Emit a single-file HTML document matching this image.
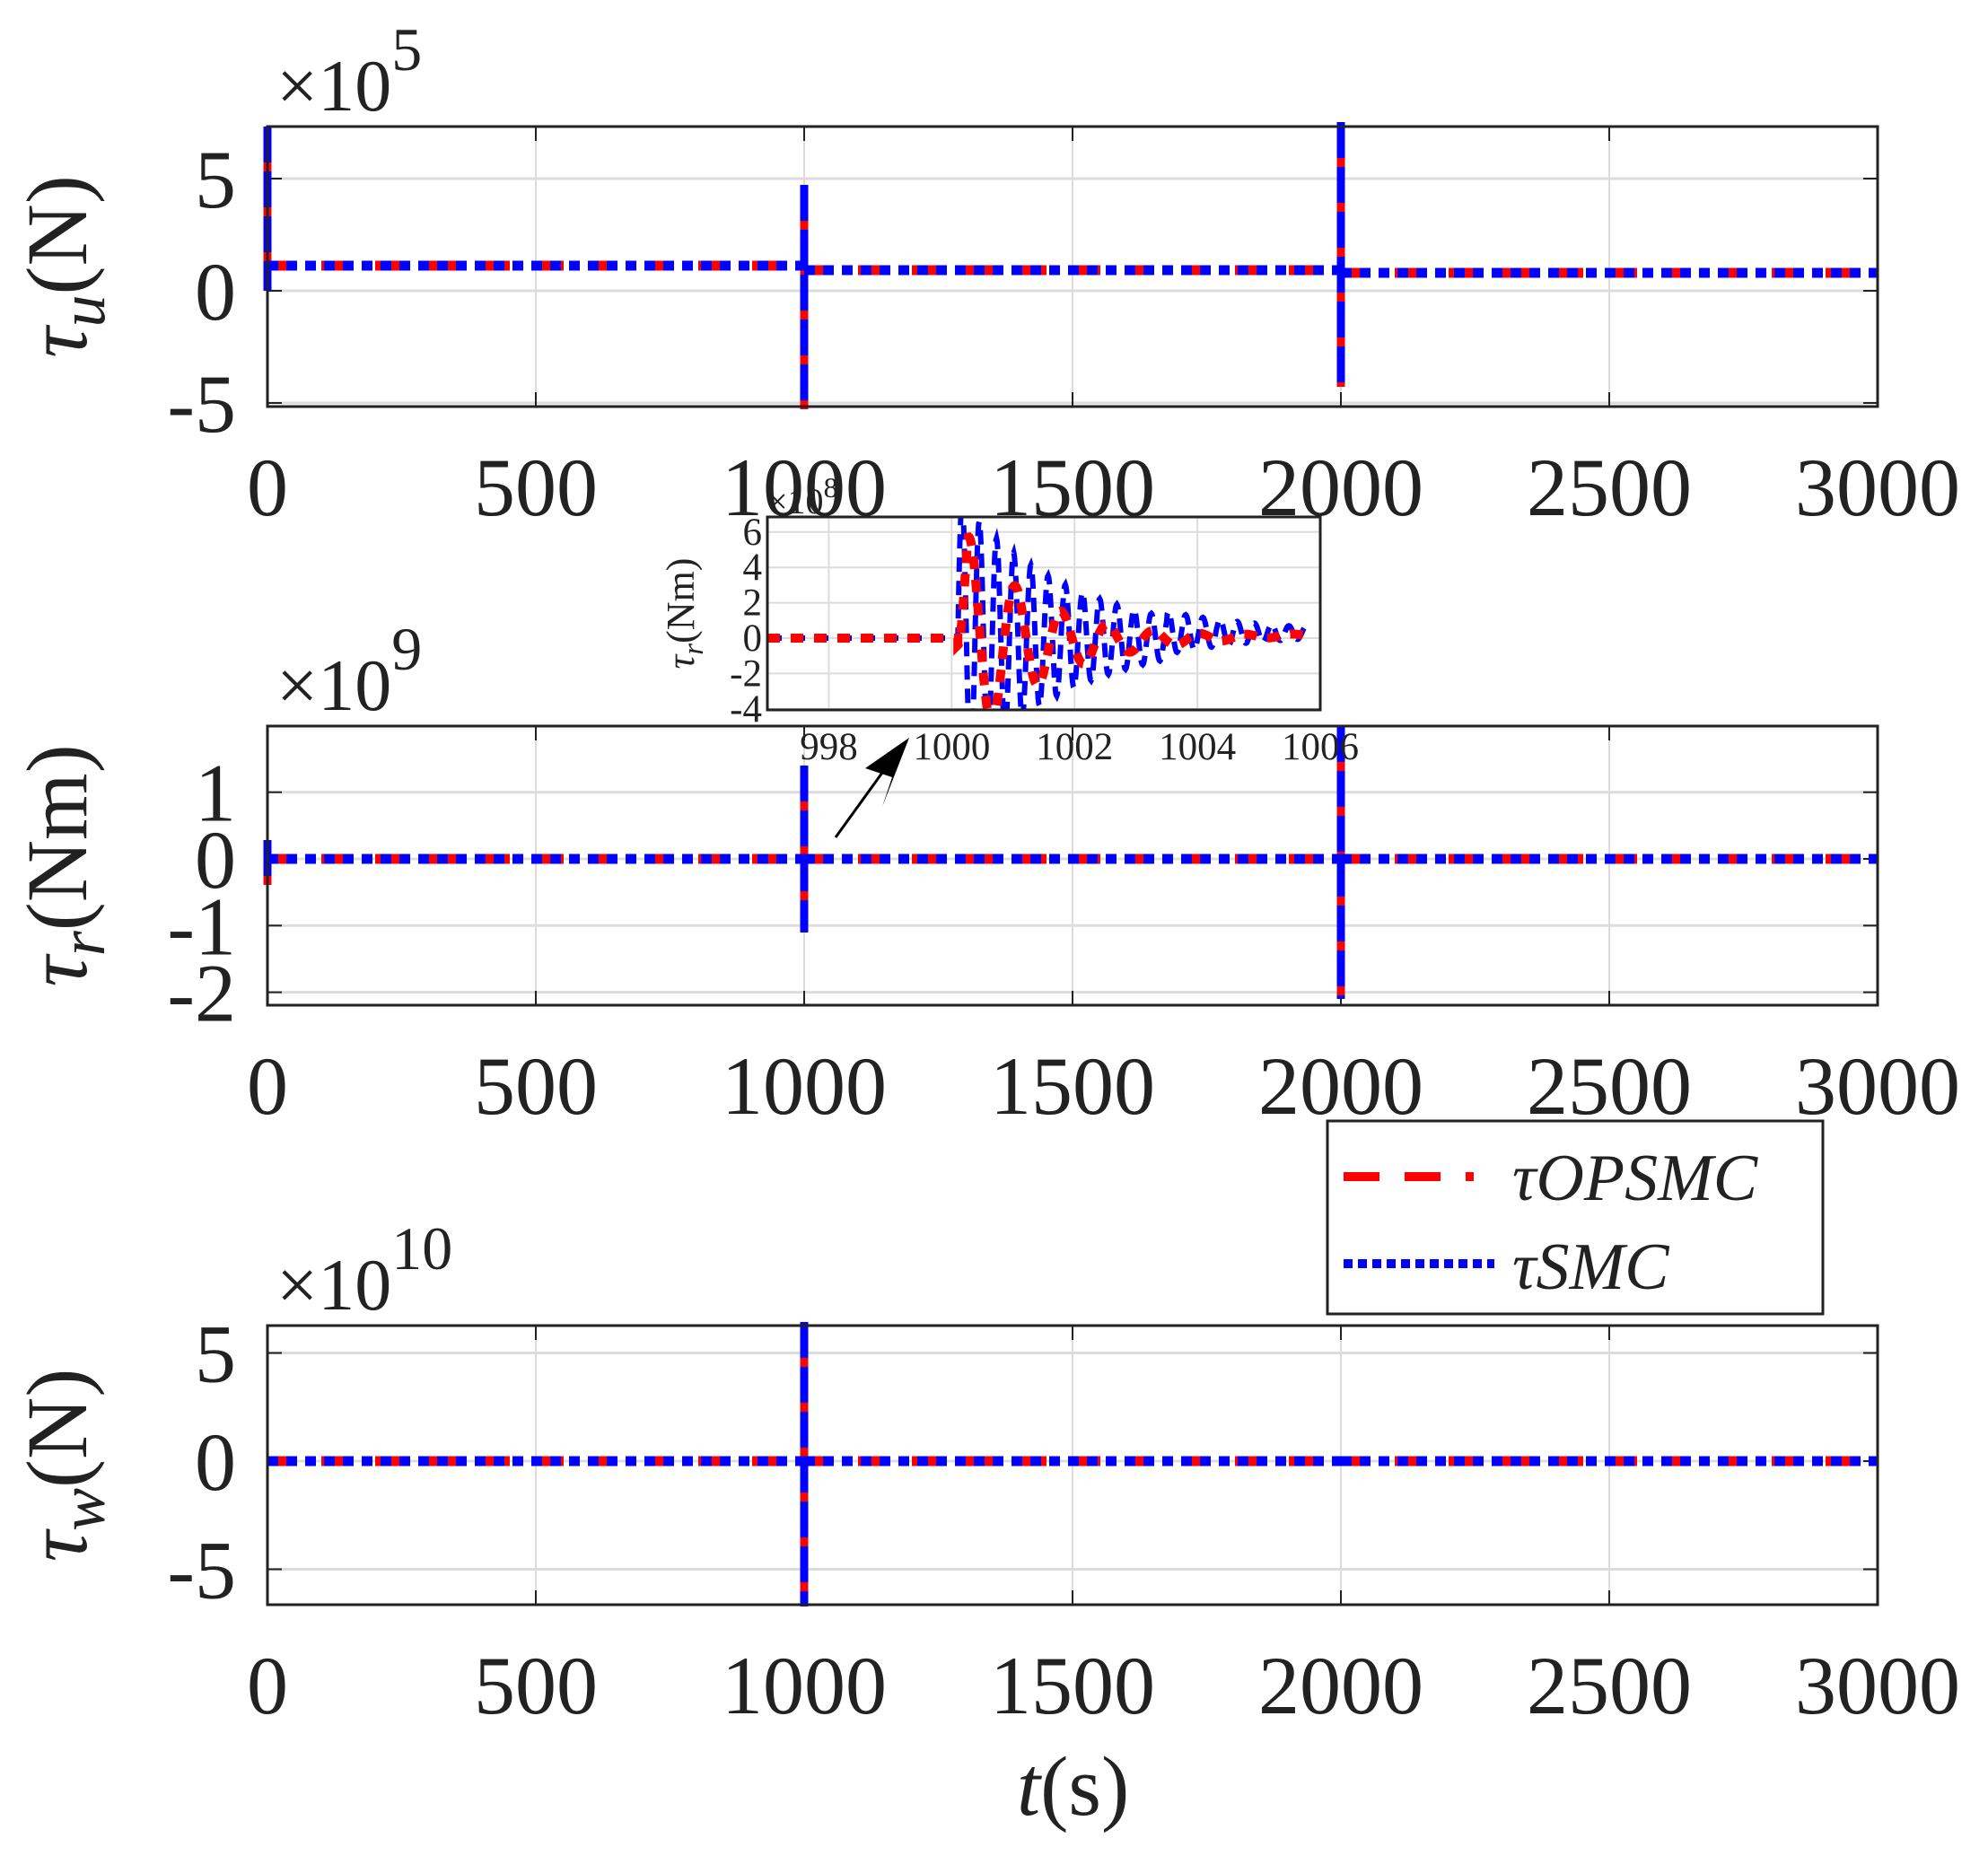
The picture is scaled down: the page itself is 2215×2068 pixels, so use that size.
<!DOCTYPE html>
<html><head><meta charset="utf-8"><style>
html,body{margin:0;padding:0;background:#fff;}
svg{display:block;}
text{font-family:"Liberation Serif",serif;fill:#222;}
</style></head><body>
<svg id="s" width="2215" height="2068" viewBox="0 0 2215 2068" xmlns="http://www.w3.org/2000/svg">
<rect width="2215" height="2068" fill="#fff"/>
<g id="g"></g>
<!-- Legend -->
<rect x="1479" y="1249" width="552" height="215" fill="#fff" stroke="#222" stroke-width="3"/>
<line x1="1497" y1="1311" x2="1642" y2="1311" stroke="#f00" stroke-width="10" stroke-dasharray="40 28"/>
<line x1="1497" y1="1408" x2="1665" y2="1408" stroke="#00f" stroke-width="10" stroke-dasharray="10 6"/>
<text x="1685" y="1337" font-size="74" font-style="italic">τOPSMC</text>
<text x="1685" y="1436" font-size="74" font-style="italic">τSMC</text>
<text x="1133" y="2022" font-size="94"><tspan font-style="italic">t</tspan>(s)</text>
<!-- arrow -->
<line x1="931" y1="933" x2="988" y2="854" stroke="#000" stroke-width="3"/>
<polygon points="1013,822 964,856 994,866 983,899" fill="#000"/>
</svg>
<script>
var NS="http://www.w3.org/2000/svg",g=document.getElementById('g');
function el(t,a,txt){var e=document.createElementNS(NS,t);for(var k in a)e.setAttribute(k,a[k]);if(txt!==undefined)e.textContent=txt;g.appendChild(e);return e;}
var L=298,R=2092;function X(t){return L+(R-L)*t/3000;}
function panel(top,bot,Y,yt,exp,ylab,sub,spikes,lv){
  for(var t=0;t<=3000;t+=500){el('line',{x1:X(t),y1:top,x2:X(t),y2:bot,stroke:'#dcdcdc','stroke-width':2});}
  yt.forEach(function(v){el('line',{x1:L,y1:Y(v),x2:R,y2:Y(v),stroke:'#dcdcdc','stroke-width':3});});
  for(var t=0;t<=3000;t+=500){el('line',{x1:X(t),y1:top,x2:X(t),y2:top+16,stroke:'#222','stroke-width':2});el('line',{x1:X(t),y1:bot,x2:X(t),y2:bot-16,stroke:'#222','stroke-width':2});
    el('text',{x:X(t),y:bot+121,'font-size':92,'text-anchor':'middle'},String(t));}
  yt.forEach(function(v){el('line',{x1:L,y1:Y(v),x2:L+16,y2:Y(v),stroke:'#222','stroke-width':2});el('line',{x1:R,y1:Y(v),x2:R-16,y2:Y(v),stroke:'#222','stroke-width':2});
    el('text',{x:263,y:Y(v)+32,'font-size':92,'text-anchor':'end'},String(v));});
  var d='M'+L+' '+lv[0];
  d+=' L'+X(1000)+' '+lv[0]+' M'+X(1000)+' '+lv[1]+' L'+X(2000)+' '+lv[1]+' M'+X(2000)+' '+lv[2]+' L'+R+' '+lv[2];
  var sp='';spikes.forEach(function(s){sp+='M'+s[0]+' '+s[1]+' L'+s[0]+' '+s[2]+' ';});
  el('path',{d:d,stroke:'#f00','stroke-width':11,fill:'none','stroke-dasharray':'30 30'});
  el('path',{d:sp,stroke:'#f00','stroke-width':9,fill:'none'});
  el('path',{d:d,stroke:'#00f','stroke-width':11,fill:'none','stroke-dasharray':'12 9'});
  el('path',{d:sp,stroke:'#00f','stroke-width':9,fill:'none','stroke-dasharray':'40 10'});
  el('rect',{x:L,y:top,width:R-L,height:bot-top,fill:'none',stroke:'#222','stroke-width':3});
  var e=el('text',{x:308,y:top-18,'font-size':82});e.innerHTML='×10<tspan dy="-45" font-size="68">'+exp+'</tspan>';
  var yl=el('text',{transform:'translate(96,'+((top+bot)/2)+') rotate(-90)','font-size':96,'text-anchor':'middle'});
  yl.innerHTML='<tspan font-style="italic">τ</tspan><tspan font-style="italic" font-size="72" dy="20">'+sub+'</tspan><tspan dy="-20">'+ylab+'</tspan>';
}
var P1=function(v){return 324-25*v;};
panel(141,453,P1,[-5,0,5],'5','(N)','u',[[X(0),141,324],[X(1000),206,456],[X(2000),136,431]],[296,301,304]);
var P2=function(v){return 957-74.3*v;};
panel(809,1120,P2,[-2,-1,0,1],'9','(Nm)','r',[[X(0),936,986],[X(1000),853,1039],[X(2000),809,1113]],[957,957,957]);
var P3=function(v){return 1628-24.1*v;};
panel(1477,1788,P3,[-5,0,5],'10','(N)','w',[[X(1000),1473,1790]],[1628,1628,1628]);
var iL=855,iR=1471,iT=576,iB=791;
function IX(t){return iL+(iR-iL)*(t-997)/9;} function IY(v){return 711-19.7*v;}
el('rect',{x:iL,y:iT,width:iR-iL,height:iB-iT,fill:'#fff'});
[998,1000,1002,1004,1006].forEach(function(t){el('line',{x1:IX(t),y1:iT,x2:IX(t),y2:iB,stroke:'#dcdcdc','stroke-width':2});el('text',{x:IX(t),y:846,'font-size':43,'text-anchor':'middle'},String(t));});
[-4,-2,0,2,4,6].forEach(function(v){el('line',{x1:iL,y1:IY(v),x2:iR,y2:IY(v),stroke:'#dcdcdc','stroke-width':2});el('text',{x:iL-6,y:IY(v)+14,'font-size':43,'text-anchor':'end'},String(v));});
var cp=el('clipPath',{id:'ic'});var cr=document.createElementNS(NS,'rect');cr.setAttribute('x',iL);cr.setAttribute('y',iT);cr.setAttribute('width',iR-iL);cr.setAttribute('height',iB-iT);cp.appendChild(cr);
var db='M'+iL+' '+IY(0)+' L'+IX(1000.1)+' '+IY(0);
for(var t=1000.1;t<=1005.8;t+=0.01){var a=8*Math.exp(-(t-1000.1)/1.8);var v=a*Math.sin((t-1000.1)*2*Math.PI/0.28)+(t>1003.5?0.3:0);db+=' L'+IX(t).toFixed(1)+' '+IY(v).toFixed(1);}
var dr='M'+iL+' '+IY(0)+' L'+IX(1000.1)+' '+IY(0);
for(var t=1000.1;t<=1005.8;t+=0.01){var a=6*Math.exp(-(t-1000.3)/1.2);var v=a*Math.sin((t-1000.1)*2*Math.PI/0.75)*Math.min(1,(t-1000.1)*6)+0.1*(t-1004);dr+=' L'+IX(t).toFixed(1)+' '+IY(v).toFixed(1);}
el('path',{d:db,stroke:'#00f','stroke-width':6,fill:'none','stroke-dasharray':'16 10','clip-path':'url(#ic)'});
el('path',{d:dr,stroke:'#f00','stroke-width':10,fill:'none','stroke-dasharray':'14 12','clip-path':'url(#ic)'});
el('rect',{x:iL,y:iT,width:iR-iL,height:iB-iT,fill:'none',stroke:'#222','stroke-width':3});
var it=el('text',{x:iL,y:iT-4,'font-size':40});it.innerHTML='×10<tspan dy="-18" font-size="32">8</tspan>';
var iyl=el('text',{transform:'translate(773,'+((iT+iB)/2)+') rotate(-90)','font-size':44,'text-anchor':'middle'});
iyl.innerHTML='<tspan font-style="italic">τ</tspan><tspan font-style="italic" font-size="33" dy="10">r</tspan><tspan dy="-10">(Nm)</tspan>';
</script>
</body></html>
